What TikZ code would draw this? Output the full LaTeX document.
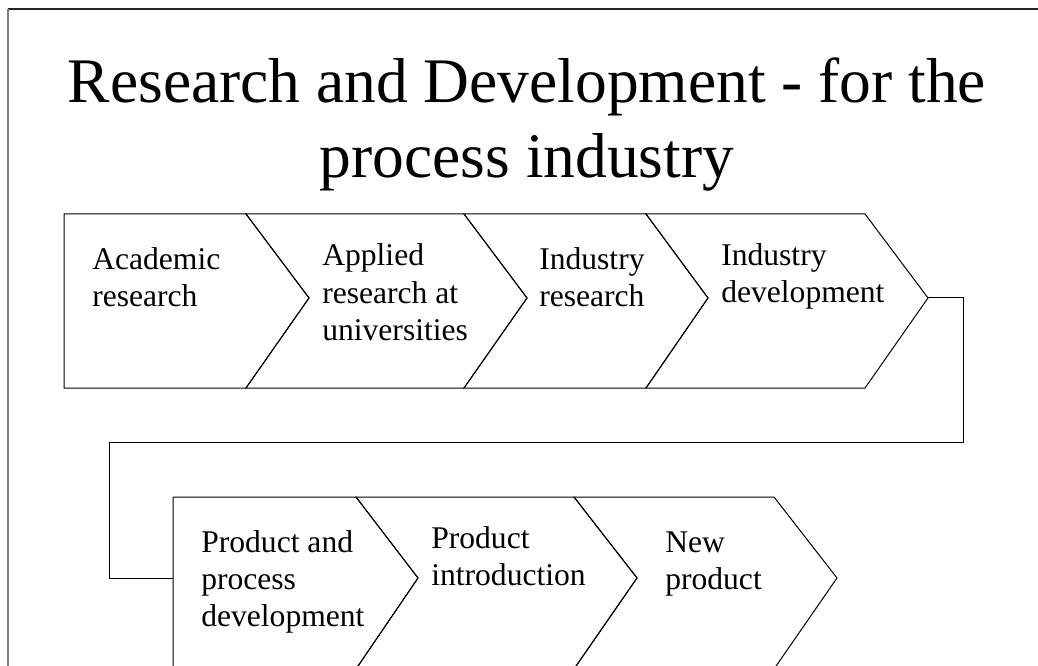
\documentclass[tikz,border=0pt]{standalone}
\usepackage{fontspec}
\setmainfont{Liberation Serif}
\begin{document}
\begin{tikzpicture}[x=0.75pt, y=-0.75pt,
		chev/.style={line width=0.75pt},
		lbl/.style={anchor=base west, align=left, inner sep=0pt, font=\fontsize{23.7}{27.75}\selectfont}]
			%%%%% START %%%%%
			
			\useasboundingbox (0, 0) rectangle (1038, 666);
			\clip (0, 0) rectangle (1038, 666);
			
			\draw[color=black!85, line width=0.8pt] (8, 9) -- (1038, 9);
			\draw[color=black!50, line width=1pt] (8, 9) -- (8, 666);
			
			% base = baseline of the last line
			\node[font=\fontsize{47.6}{56.3}\selectfont, align=center, anchor=base, inner sep=0pt] (title) at (527, 178) {Research and Development - for the\\process industry};
			
			% upper row
			\draw[chev] (64, 214) -- (246, 214) -- (309, 298) -- (246, 388) -- (64, 388) -- cycle;
			\draw[chev] (246, 214) -- (464, 214) -- (527, 298) -- (464, 388) -- (246, 388) -- (309, 298) -- cycle;
			\draw[chev] (464, 214) -- (646, 214) -- (708, 298) -- (646, 388) -- (464, 388) -- (527, 298) -- cycle;
			\draw[chev] (646, 214) -- (865, 214) -- (928, 298) -- (865, 388) -- (646, 388) -- (708, 298) -- cycle;
			\coordinate (tip4) at (928, 298);
			
			\node[lbl] (academic) at (92, 307) {Academic\\research};
			\node[lbl] (applied) at (322, 340) {Applied\\research at\\universities};
			\node[lbl] (indres) at (539, 307) {Industry\\research};
			\node[lbl] (inddev) at (721, 303) {Industry\\development};
			
			% lower row
			\draw[chev] (173, 497) -- (356, 497) -- (418, 578) -- (356, 669) -- (173, 669) -- cycle;
			\draw[chev] (356, 497) -- (574, 497) -- (637, 578) -- (574, 669) -- (356, 669) -- (418, 578) -- cycle;
			\draw[chev] (574, 497) -- (774, 497) -- (837, 578) -- (774, 669) -- (574, 669) -- (637, 578) -- cycle;
			\coordinate (in5) at (173, 578);
			
			\node[lbl] (proddev) at (201, 626) {Product and\\process\\development};
			\node[lbl] (prodintro) at (431, 585) {Product\\introduction};
			\node[lbl] (newprod) at (665, 589) {New\\product};
			
			% link between the rows
			\coordinate (bendA) at (963, 442);
			\coordinate (bendB) at (109, 442);
			\draw[chev] (tip4) -| (bendA) -- (bendB) |- (in5);
			
			%%%%% END %%%%%
		\end{tikzpicture}
\end{document}
